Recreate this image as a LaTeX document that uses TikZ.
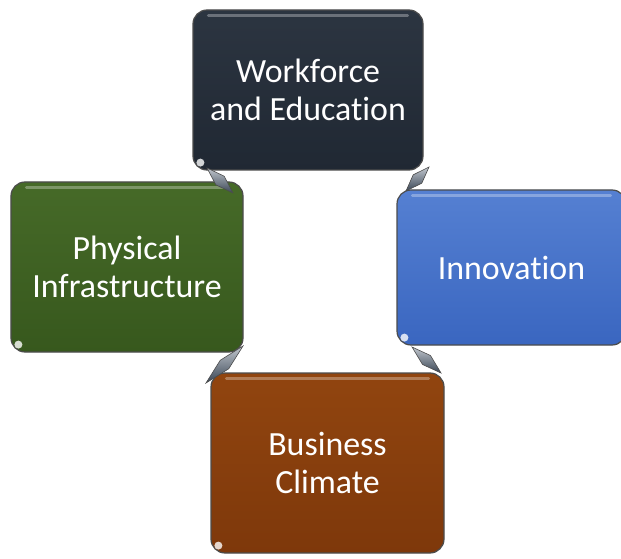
\documentclass[tikz,border=0pt]{standalone}
\usepackage{fontspec}
\setmainfont{Carlito}[Ligatures={NoCommon}]
\usetikzlibrary{calc}
\definecolor{wfc}{HTML}{202833}
\definecolor{wft}{HTML}{2C3541}
\definecolor{innc}{HTML}{3A66C0}
\definecolor{innt}{HTML}{5580D2}
\definecolor{phc}{HTML}{37581D}
\definecolor{pht}{HTML}{466A28}
\definecolor{buc}{HTML}{7E380B}
\definecolor{but}{HTML}{91450F}
\definecolor{conn}{HTML}{4E5E72}
\tikzset{
  box/.style={rounded corners=14bp, draw=gray!60!black, line width=1.2bp,
    text=white, align=center, font=\fontsize{34}{38}\selectfont, inner sep=0pt},
  connector/.style={draw=black!70, line width=0.6bp, top color=conn!35!white, bottom color=conn!75!black},
  hl/.style={white, opacity=0.3, line width=3bp, line cap=round}
}
\begin{document}
\begin{tikzpicture}[x=1bp,y=-1bp]
\useasboundingbox (0,0) rectangle (621,559);
% boxes
\node[box, minimum width=230bp, minimum height=160bp, top color=wft, bottom color=wfc] (wf) at (308,90) {Workforce\\and Education};
\node[box, minimum width=229bp, minimum height=155bp, top color=innt, bottom color=innc] (inn) at (511.5,267.5) {Innovation};
\node[box, minimum width=232bp, minimum height=170bp, top color=pht, bottom color=phc] (ph) at (127,267) {Physical\\Infrastructure};
\node[box, minimum width=233bp, minimum height=180bp, top color=but, bottom color=buc] (bu) at (327.5,463) {Business\\Climate};
% highlights
\foreach \n in {wf,inn,ph,bu}{
  \draw[hl] ($(\n.north west)+(16,6)$) -- ($(\n.north east)+(-16,6)$);
  \fill[white, opacity=0.8] ($(\n.south west)+(8,-8)$) circle (4bp);
}
% connectors
\coordinate (c1a) at (207,168); \coordinate (c1b) at (233,193);
\coordinate (c2a) at (429,167); \coordinate (c2b) at (406,191);
\coordinate (c3a) at (243,346); \coordinate (c3b) at (206,383);
\coordinate (c4a) at (412,347); \coordinate (c4b) at (441,373);
\foreach \a/\b in {c1a/c1b,c2a/c2b,c3a/c3b,c4a/c4b}{
  \path[connector] (\a) -- ($(\a)!0.5!(\b)!6bp!90:(\b)$) -- (\b) -- ($(\a)!0.5!(\b)!6bp!-90:(\b)$) -- cycle;
}
\end{tikzpicture}
\end{document}
